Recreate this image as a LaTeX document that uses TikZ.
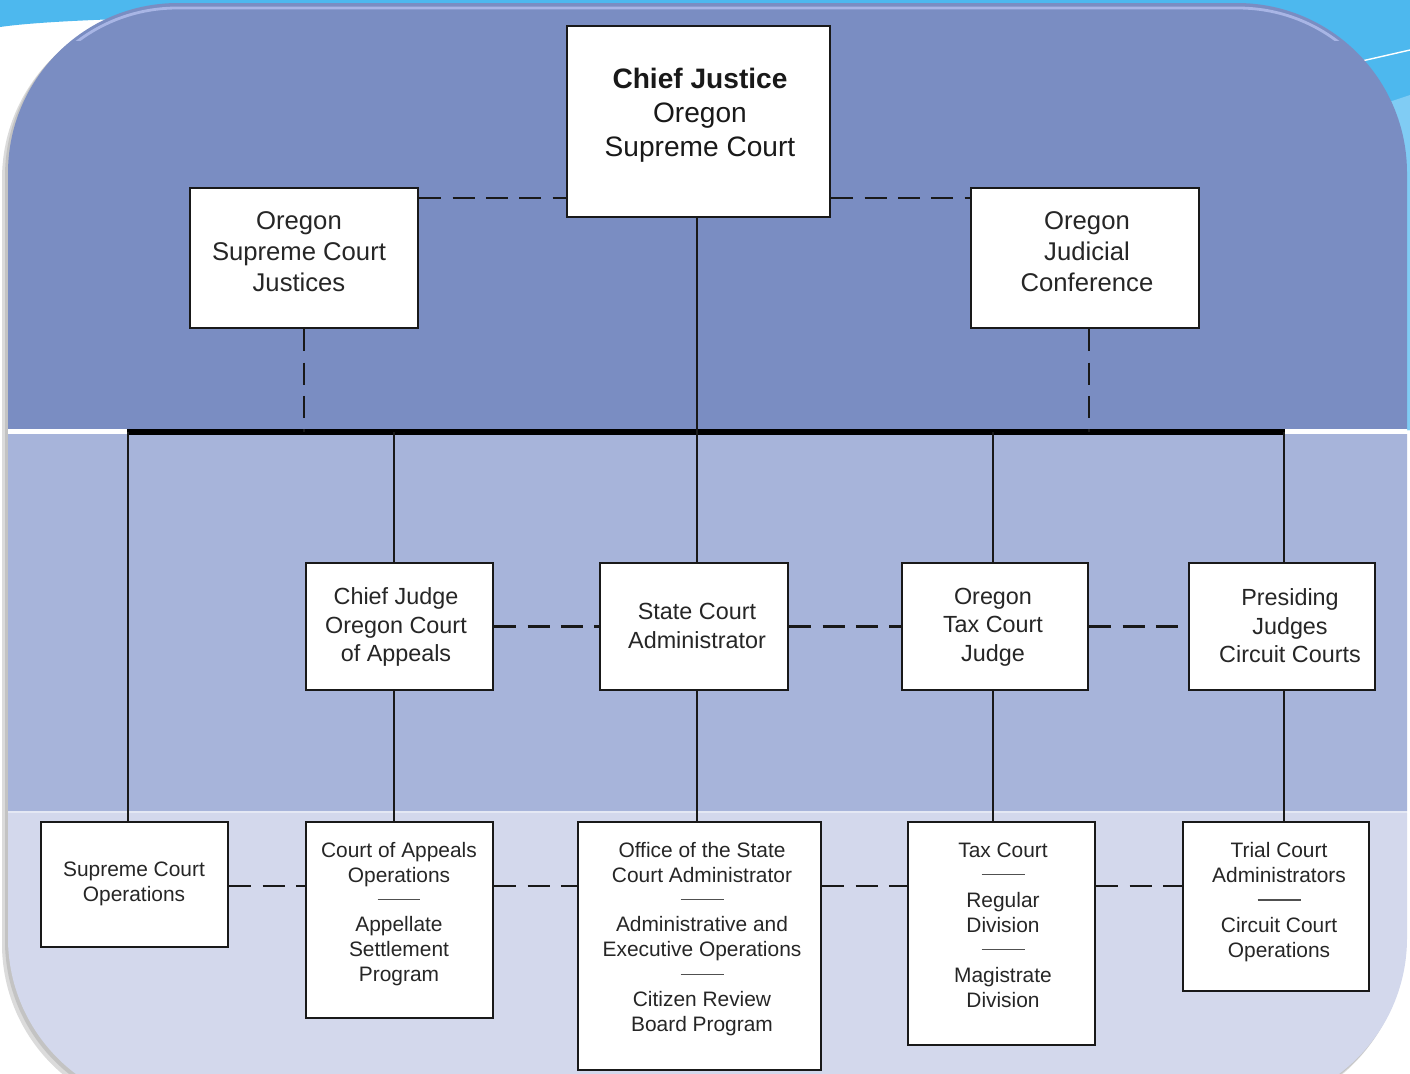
\documentclass[tikz,border=0pt]{standalone}
\usepackage{fontspec}
\setmainfont{Liberation Sans}
\usetikzlibrary{calc}
\definecolor{bandA}{HTML}{7A8DC2}
\definecolor{bandB}{HTML}{A7B4DA}
\definecolor{bandC}{HTML}{D3D8EC}
\definecolor{sky}{HTML}{4DB8EE}
\definecolor{skylight}{HTML}{80CCF4}
\definecolor{txtc}{HTML}{262626}
\definecolor{rulegray}{HTML}{505050}
\definecolor{hilite}{HTML}{B4C0EE}
\newcommand\divrule{\textcolor{rulegray}{\rule[0.33em]{0.86cm}{0.8pt}}}
\begin{document}
\begin{tikzpicture}[x=0.02cm,y=-0.02cm,
  box/.style={draw=black!90, line width=1.4pt, fill=white, inner sep=0pt},
  conn/.style={draw=black!90, line width=1.2pt},
  dsh/.style={conn, line width=1.3pt, dash pattern=on 12.5pt off 6.5pt},
  tcjs/.style={align=center, text=black!90, font=\fontsize{16}{19.3}\selectfont},
  ttop/.style={align=center, text=txtc, font=\fontsize{14.6}{17.6}\selectfont},
  tmid/.style={align=center, text=txtc, font=\fontsize{13.3}{16.2}\selectfont},
  tbot/.style={align=center, text=txtc, font=\fontsize{11.9}{14.2}\selectfont},
]
\useasboundingbox (0,0) rectangle (1410,1073);
% slide background
\fill[white] (0,0) rectangle (1410,1073);
\fill[sky] (0,0) -- (1410,0) -- (1410,430) -- (1250,430) -- (1250,20) -- (120,19)
  .. controls (60,21) and (20,24) .. (0,27) -- cycle;
\fill[skylight] (1380,105) -- (1410,95) -- (1410,430) -- (1380,430) -- cycle;
\draw[white, line width=0.8pt] (1340,66) -- (1410,50);
% shadow
\fill[black!40, opacity=0.35, rounded corners=3.4cm] (2,9) rectangle (1403,1114);
\fill[black!40, opacity=0.35, rounded corners=3.4cm] (5,6) rectangle (1405,1111);
% panel
\begin{scope}
  \path[clip, rounded corners=3.4cm] (8,3) rectangle (1407,1108);
  \fill[bandA] (0,0) rectangle (1410,429);
  \fill[white] (0,429) rectangle (1410,434);
  \fill[bandB] (0,434) rectangle (1410,811);
  \fill[bandC!60!white] (0,811) rectangle (1410,813);
  \fill[bandC] (0,813) rectangle (1410,1110);
  \begin{scope}
    \clip (0,0) rectangle (1410,40);
    \draw[hilite, line width=1.6pt, opacity=0.8, rounded corners=3.3cm] (12,8) rectangle (1403,1104);
  \end{scope}
\end{scope}

% boxes
\node[box, minimum width=5.26cm, minimum height=3.82cm] (cj) at (698.5,121.5) {};
\node[box, minimum width=4.56cm, minimum height=2.8cm] (jus) at (304,258) {};
\node[box, minimum width=4.56cm, minimum height=2.8cm] (conf) at (1085,258) {};
\node[box, minimum width=3.74cm, minimum height=2.54cm] (cja) at (399.5,626.5) {};
\node[box, minimum width=3.76cm, minimum height=2.54cm] (sca) at (694,626.5) {};
\node[box, minimum width=3.72cm, minimum height=2.54cm] (tcj) at (995,626.5) {};
\node[box, minimum width=3.72cm, minimum height=2.54cm] (pj) at (1282,626.5) {};
\node[box, minimum width=3.74cm, minimum height=2.5cm] (sco) at (134.5,884.5) {};
\node[box, minimum width=3.74cm, minimum height=3.92cm] (coa) at (399.5,920) {};
\node[box, minimum width=4.86cm, minimum height=4.96cm] (osca) at (699.5,946) {};
\node[box, minimum width=3.74cm, minimum height=4.46cm] (tc) at (1001.5,933.5) {};
\node[box, minimum width=3.72cm, minimum height=3.38cm] (trial) at (1276,906.5) {};

% texts
\node[tcjs] (cjT) at (700,115) {\textbf{Chief Justice}\\Oregon\\Supreme Court};
\node[ttop] (jusT) at (299,252) {Oregon\\Supreme Court\\Justices};
\node[ttop] (confT) at (1087,252) {Oregon\\Judicial\\Conference};
\node[tmid] (cjaT) at (396,627) {Chief Judge\\Oregon Court\\of Appeals};
\node[tmid] (scaT) at (697,626) {State Court\\Administrator};
\node[tmid] (tcjT) at (993,627) {Oregon\\Tax Court\\Judge};
\node[tmid] (pjT) at (1290,626) {Presiding\\Judges\\Circuit Courts};
\node[tbot] (scoT) at (134,884) {Supreme Court\\Operations};
\node[tbot] (coaT) at (399,914) {Court of Appeals\\Operations\\\divrule\\Appellate\\Settlement\\Program};
\node[tbot] (oscaT) at (702,939) {Office of the State\\Court Administrator\\\divrule\\Administrative and\\Executive Operations\\\divrule\\Citizen Review\\Board Program};
\node[tbot] (tcT) at (1003,925) {Tax Court\\\divrule\\Regular\\Division\\\divrule\\Magistrate\\Division};
\node[tbot] (trialT) at (1279,902) {Trial Court\\Administrators\\\divrule\\Circuit Court\\Operations};

% bar
\coordinate (b1) at (128,432);
\coordinate (b2) at (394,432);
\coordinate (b3) at (697,432);
\coordinate (b4) at (993,432);
\coordinate (b5) at (1284,432);
\draw[black, line width=3.4pt] ([xshift=-0.6pt]b1) -- ([xshift=0.6pt]b5);

% connectors
\draw[conn] (b3 |- cj.south) -- (b3);
\draw[dsh] (jus.south) -- (jus.south |- b1);
\draw[dsh] ([xshift=2.3pt]conf.south) -- ([xshift=2.3pt]conf.south |- b1);
\draw[dsh] (jus.east |- 0,198) -- (cj.west |- 0,198);
\draw[dsh] (cj.east |- 0,198) -- (conf.west |- 0,198);

\draw[conn] (b1) -- (b1 |- sco.north);
\draw[conn] (b2) -- (b2 |- cja.north);
\draw[conn] (b2 |- cja.south) -- (b2 |- coa.north);
\draw[conn] (b3) -- (b3 |- sca.north);
\draw[conn] (b3 |- sca.south) -- (b3 |- osca.north);
\draw[conn] (b4) -- (b4 |- tcj.north);
\draw[conn] (b4 |- tcj.south) -- (b4 |- tc.north);
\draw[conn] (b5) -- (b5 |- pj.north);
\draw[conn] (b5 |- pj.south) -- (b5 |- trial.north);

\draw[dsh] (cja.east) -- (sca.west);
\draw[dsh] (sca.east) -- (tcj.west);
\draw[dsh] (tcj.east) -- (pj.west);

\draw[dsh] (sco.east |- 0,886) -- (coa.west |- 0,886);
\draw[dsh] (coa.east |- 0,886) -- (osca.west |- 0,886);
\draw[dsh] (osca.east |- 0,886) -- (tc.west |- 0,886);
\draw[dsh] (tc.east |- 0,886) -- (trial.west |- 0,886);
\end{tikzpicture}
\end{document}
